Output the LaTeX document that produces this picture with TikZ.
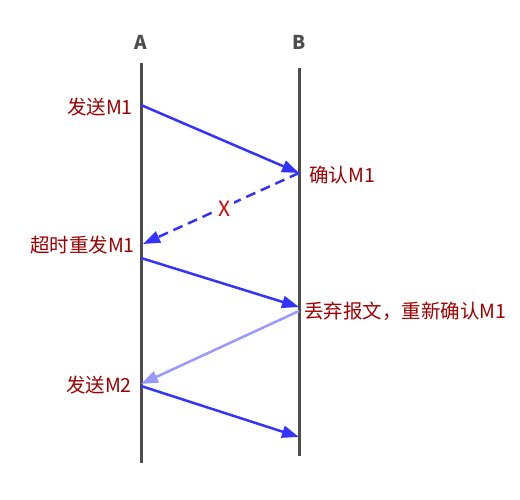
\documentclass[tikz,border=0pt]{standalone}
\usepackage{fontspec}
\setmainfont{Noto Sans CJK SC}
\usetikzlibrary{arrows.meta}

\definecolor{lifegray}{HTML}{4D4D4D}
\definecolor{msgblue}{HTML}{3333FF}
\definecolor{ackpale}{HTML}{9999FF}
\definecolor{labelred}{HTML}{A00000}
\definecolor{lostred}{HTML}{DD0000}

\begin{document}
\begin{tikzpicture}[x=1pt, y=-1pt, >={Triangle[length=17pt,width=12pt]},
  lifeline/.style={draw=lifegray, line width=3pt},
  msg/.style={->, draw=msgblue, line width=2.5pt},
  lbl/.style={text=labelred, inner sep=0pt, font=\fontsize{19.5pt}{22pt}\selectfont},
  head/.style={text=lifegray, font=\bfseries\fontsize{19pt}{22pt}\selectfont}]

\useasboundingbox (0,0) rectangle (520,500);

% Les lignes de vie (A et B)
\node[head] (A) at (141,42) {A};
\node[head] (B) at (299,42) {B};
\coordinate (At) at (141,63);
\coordinate (Ab) at (141,463);
\coordinate (Bt) at (299,68);
\coordinate (Bb) at (299,456);
\draw[lifeline] (At) -- (Ab);
\draw[lifeline] (Bt) -- (Bb);

% Les points des messages
\coordinate (A1) at (141,105);
\coordinate (B1) at (299,173);
\coordinate (A2) at (143,244);
\coordinate (A3) at (141,258);
\coordinate (B3) at (299,307);
\coordinate (B4) at (299,311);
\coordinate (A4) at (141,384);
\coordinate (A5) at (141,386);
\coordinate (B5) at (299,437);

% Les messages
\draw[msg] (A1) -- (B1);
\draw[msg, dash pattern=on 10pt off 6pt] (B1) -- (A2);
\draw[msg] (A3) -- (B3);
\draw[msg, draw=ackpale] (B4) -- (A4);
\draw[msg] (A5) -- (B5);

% Les étiquettes
\node[lbl, anchor=east] (send1) at (133,107) {发送M1};
\node[lbl, anchor=west] (ack1) at (309,175) {确认M1};
\node[lbl, text=lostred, fill=white, inner sep=3pt, font=\fontsize{21pt}{24pt}\selectfont] (lost) at (225,209) {X};
\node[lbl, anchor=east] (resend) at (135,245) {超时重发M1};
\node[lbl, anchor=west] (ack2) at (304,311) {丢弃报文，重新确认M1};
\node[lbl, anchor=east] (send2) at (132,385) {发送M2};

\end{tikzpicture}
\end{document}
